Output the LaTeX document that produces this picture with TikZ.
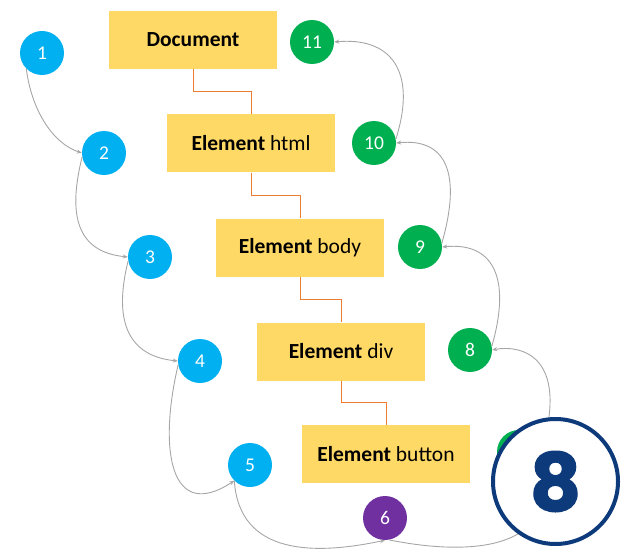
\documentclass[tikz,border=0pt]{standalone}
\usepackage{fontspec}
\setmainfont{Carlito}
\newfontfamily\bigdigit[BoldFeatures={FakeBold=1.6}]{Poppins}
\usetikzlibrary{arrows.meta}

\definecolor{boxyellow}{HTML}{FFD966}
\definecolor{treeorange}{HTML}{ED7D31}
\definecolor{stepblue}{HTML}{00B0F0}
\definecolor{stepgreen}{HTML}{00B050}
\definecolor{steppurple}{HTML}{7030A0}
\definecolor{linkgray}{HTML}{A6A6A6}
\definecolor{navy}{HTML}{0D3A7A}

\tikzset{
  elem/.style={fill=boxyellow, minimum width=168pt, minimum height=58pt,
    inner sep=0pt, font=\fontsize{21.5}{24}\selectfont},
  stepdot/.style={circle, minimum size=44pt, inner sep=0pt, text=white,
    font=\fontsize{19.5}{22}\selectfont},
  blue/.style={stepdot, fill=stepblue},
  green/.style={stepdot, fill=stepgreen},
  purple/.style={stepdot, fill=steppurple},
  tree/.style={draw=treeorange, line width=1pt},
  link/.style={draw=linkgray, line width=0.9pt,
    -{Stealth[length=5pt,width=4pt]}},
}

\begin{document}
\begin{tikzpicture}[x=1pt,y=1pt]
\useasboundingbox (0,0) rectangle (626,-556);

% DOM tree boxes
\node[elem] (doc)    at (193,-40)    {\textbf{Document}};
\node[elem] (html)   at (251,-143.5) {\textbf{Element} html};
\node[elem] (body)   at (300,-247.5) {\textbf{Element} body};
\node[elem] (div)    at (341,-351.5) {\textbf{Element} div};
\node[elem] (button) at (386,-454)   {\textbf{Element} button};

% parent-child links
\draw[tree] (doc.south)  -- ++(0,-22.5) -| (html.north);
\draw[tree] (html.south) -- ++(0,-22.5) -| (body.north);
\draw[tree] (body.south) -- ++(0,-22.5) -| (div.north);
\draw[tree] (div.south)  -- ++(0,-22)   -| (button.north);

% capturing phase (down), target, bubbling phase (up)
\node[blue]   (c1)  at (42,-53)   {1};
\node[blue]   (c2)  at (104,-153) {2};
\node[blue]   (c3)  at (150,-257) {3};
\node[blue]   (c4)  at (200,-361) {4};
\node[blue]   (c5)  at (250,-465) {5};
\node[purple] (c6)  at (385,-518) {6};
\node[green]  (c7)  at (519,-452) {7};
\node[green]  (c8)  at (470,-350) {8};
\node[green]  (c9)  at (420,-247) {9};
\node[green]  (c10) at (374,-143) {10};
\node[green]  (c11) at (312,-42)  {11};

% event path
\draw[link] (c1.-135) .. controls +(5,-40) and +(-30,10) .. (c2.west);
\draw[link] (c2.190) .. controls +(-15,-60) and +(-50,5) .. (c3.west);
\draw[link] (c3.190) .. controls +(-15,-60) and +(-50,5) .. (c4.west);
\draw[link] (c4.190) .. controls +(-20,-85) and +(-64,-42) .. (c5.225);
\draw[link] (c5.225) .. controls +(5,-75) and +(-70,-15) .. (c6.south);
\draw[link] (c6.-80) .. controls +(100,-20) and +(22,-77) .. (c7.-30);
\draw[link] (c7.east) .. controls +(30,100) and +(25,5) .. (c8.east);
\draw[link] (c8.10) .. controls +(20,70) and +(50,5) .. (c9.east);
\draw[link] (c9.10) .. controls +(20,70) and +(50,5) .. (c10.east);
\draw[link] (c10.10) .. controls +(22,70) and +(55,5) .. (c11.east);

% badge
\node[circle, draw=navy, line width=4pt, fill=white, minimum size=125pt,
  inner sep=0pt, text=navy, font=\bigdigit\bfseries\fontsize{80}{80}\selectfont]
  (badge) at (555.5,-481.5) {8};
\end{tikzpicture}
\end{document}
